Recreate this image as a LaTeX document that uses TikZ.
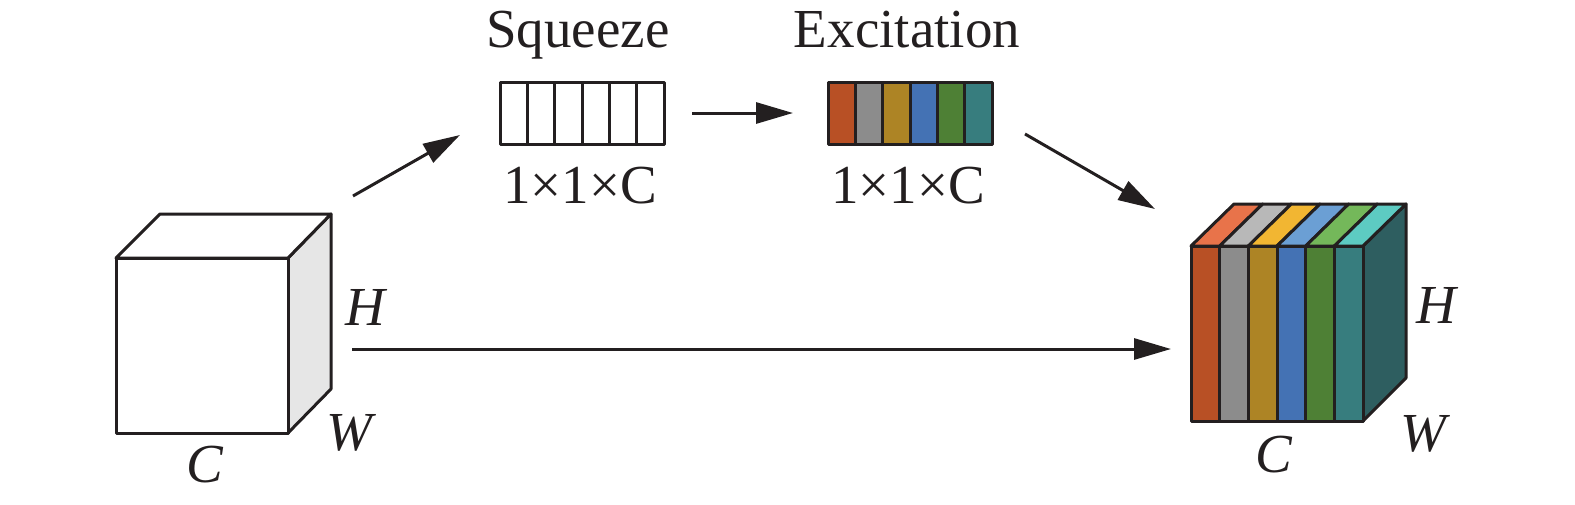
\documentclass[tikz,border=0pt]{standalone}
\usepackage{fontspec}
\setmainfont{Liberation Serif}
\usetikzlibrary{arrows.meta}
\definecolor{fa}{HTML}{B85025}
\definecolor{fb}{HTML}{8C8C8C}
\definecolor{fc}{HTML}{AD8425}
\definecolor{fd}{HTML}{4472B4}
\definecolor{fe}{HTML}{4E8035}
\definecolor{ff}{HTML}{377D7E}
\definecolor{ta}{HTML}{E8734A}
\definecolor{tb}{HTML}{B8B8B8}
\definecolor{tc}{HTML}{F2B632}
\definecolor{td}{HTML}{6B9FD4}
\definecolor{te}{HTML}{74B85A}
\definecolor{tf}{HTML}{5DCBC2}
\definecolor{sideteal}{HTML}{2E5E60}
\definecolor{sidegray}{HTML}{E6E6E6}
\definecolor{ink}{HTML}{231F20}
\tikzset{
  edge/.style={draw=ink, line width=3pt, line join=round},
  conn/.style={draw=ink, line width=3pt, -{Triangle[length=37pt,width=21pt]}},
  lbl/.style={inner sep=0pt, anchor=base, font=\fontsize{55}{60}\selectfont, text=ink},
  ilbl/.style={inner sep=0pt, anchor=base west, font=\fontsize{55}{60}\selectfont\itshape, text=ink},
}
\begin{document}
\begin{tikzpicture}[x=1pt,y=-1pt]
\useasboundingbox (0,0) rectangle (1575,504);

% ---------- left cube ----------
\path[edge, fill=sidegray] (288,258) -- (331,214) -- (331,389) -- (288,433) -- cycle;
\path[edge, fill=white] (116,258) -- (160,214) -- (331,214) -- (288,258) -- cycle;
\path[edge, fill=white] (116,258) rectangle (288,433);
\node[ilbl] (lH) at (345,325) {H};
\node[ilbl] (lW) at (326,450) {W};
\node[ilbl] (lC) at (186,482) {C};

% ---------- squeeze box ----------
\path[edge, fill=white] (500,82) rectangle (664,144);
\foreach \i in {1,...,5} {
  \draw[edge] ({500+\i*164/6},82) -- ({500+\i*164/6},144);
}
\node[lbl] (sqt) at (578,47) {Squeeze};
\node[lbl] (sqd) at (580,203) {1×1×C};

% ---------- excitation box ----------
\foreach \c [count=\i from 0] in {fa,fb,fc,fd,fe,ff} {
  \fill[\c] ({828+\i*164/6},82) rectangle ({828+(\i+1)*164/6},144);
}
\foreach \i in {1,...,5} {
  \draw[edge] ({828+\i*164/6},82) -- ({828+\i*164/6},144);
}
\path[edge] (828,82) rectangle (992,144);
\node[lbl] (ext) at (907,47) {Excitation};
\node[lbl] (exd) at (908,203) {1×1×C};

% ---------- right cube ----------
\path[edge, fill=sideteal] (1363,246) -- (1406,204) -- (1406,378) -- (1363,421) -- cycle;
\foreach \c [count=\i from 0] in {ta,tb,tc,td,te,tf} {
  \path[edge, fill=\c] ({1191+\i*172/6},246) -- ({1234+\i*172/6},204) -- ({1234+(\i+1)*172/6},204) -- ({1191+(\i+1)*172/6},246) -- cycle;
}
\foreach \c [count=\i from 0] in {fa,fb,fc,fd,fe,ff} {
  \path[edge, fill=\c] ({1191+\i*172/6},246) rectangle ({1191+(\i+1)*172/6},421);
}
\node[ilbl] (rH) at (1416,323) {H};
\node[ilbl] (rW) at (1400,451) {W};
\node[ilbl] (rC) at (1255,472) {C};

% ---------- connectors ----------
\coordinate (a1s) at (353,196);
\coordinate (a1e) at (460,135);
\coordinate (a2s) at (692,113);
\coordinate (a2e) at (793,113);
\coordinate (a3s) at (1025,134);
\coordinate (a3e) at (1155,209);
\coordinate (a4s) at (352,349);
\coordinate (a4e) at (1171,349);
\draw[conn] (a1s) -- (a1e);
\draw[conn] (a2s) -- (a2e);
\draw[conn] (a3s) -- (a3e);
\draw[conn] (a4s) -- (a4e);
\end{tikzpicture}
\end{document}
